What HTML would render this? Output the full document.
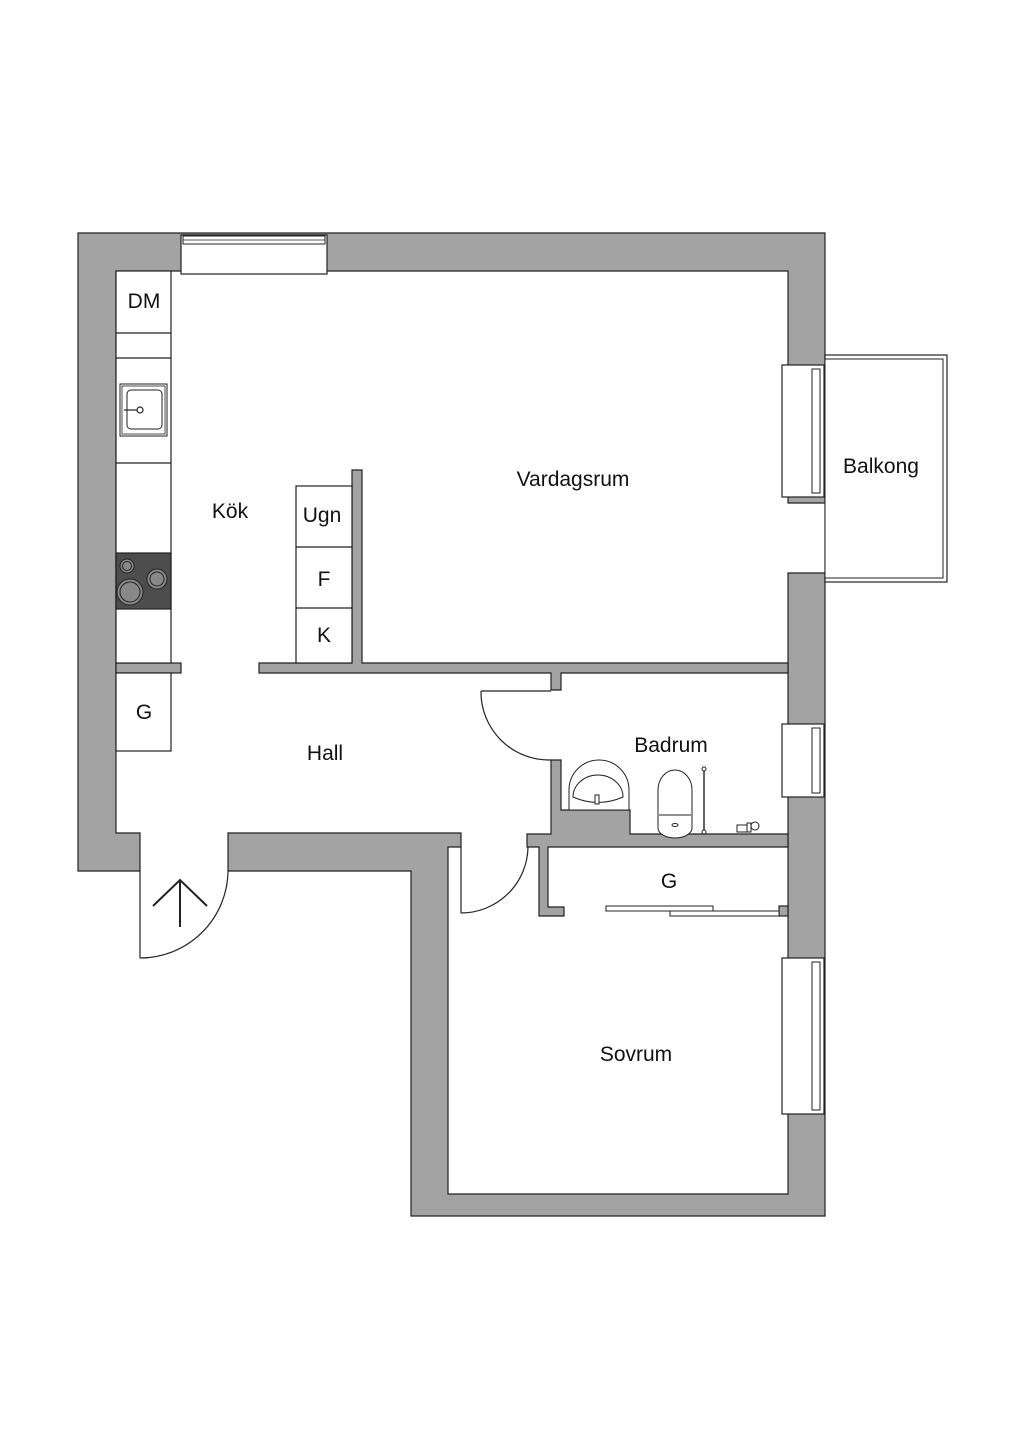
<!DOCTYPE html>
<html><head><meta charset="utf-8"><style>
html,body{margin:0;padding:0;background:#fff}
svg{display:block}
text{font-family:"Liberation Sans",sans-serif;font-size:21px;fill:#111;text-anchor:middle}
</style></head><body>
<svg width="1024" height="1448" viewBox="0 0 1024 1448" xmlns="http://www.w3.org/2000/svg">
<rect width="1024" height="1448" fill="#fff"/>
<g fill="#a3a3a3" stroke="#222" stroke-width="1.2">
<path d="M78,233 H825 V503 H788 V271 H116 V833 H140 V871 H78 Z"/>
<path d="M228,833 H461 V847 H448 V1194 H788 V573 H825 V1216 H411 V871 H228 Z"/>
<path d="M259,663 H352 V470 H362 V663 H788 V673 H561 V690 H551 V673 H259 Z"/>
<rect x="116" y="663" width="65" height="10"/>
<path d="M551,760 H561 V810 H630 V834 H788 V847 H548 V907 H564 V916 H539 V847 H527 V834 H551 Z"/>
<rect x="779" y="906" width="9" height="10"/>
</g>
<!-- top window -->
<rect x="181" y="235" width="146" height="39" fill="#fff" stroke="#222" stroke-width="1.2"/>
<rect x="183" y="236" width="142" height="8" fill="#fff" stroke="#222" stroke-width="1"/>
<line x1="183" y1="240" x2="325" y2="240" stroke="#222" stroke-width="0.8"/>
<!-- right windows -->
<g fill="#fff" stroke="#222" stroke-width="1.2">
<rect x="782" y="365" width="42" height="132"/>
<rect x="812" y="369" width="8" height="124" stroke-width="1"/>
<rect x="782" y="724" width="42" height="73"/>
<rect x="812" y="728" width="8" height="65" stroke-width="1"/>
<rect x="782" y="958" width="42" height="156"/>
<rect x="812" y="962" width="8" height="148" stroke-width="1"/>
<rect x="825" y="355" width="122" height="227"/>
<rect x="825" y="359" width="118" height="219" stroke-width="1"/>
</g>
<!-- kitchen counter -->
<g fill="#fff" stroke="#222" stroke-width="1.2">
<rect x="116" y="271" width="55" height="392"/>
<line x1="116" y1="333" x2="171" y2="333"/>
<line x1="116" y1="358" x2="171" y2="358"/>
<line x1="116" y1="463" x2="171" y2="463"/>
<rect x="116" y="553" width="55" height="56" fill="#4d4d4d"/>
<rect x="120" y="384" width="47" height="52" stroke-width="1"/>
<rect x="122" y="386" width="43" height="48" stroke-width="0.8"/>
<rect x="127" y="390" width="35" height="39" rx="4" stroke-width="1"/>
<circle cx="140" cy="410" r="3" stroke-width="1.2"/>
<line x1="124" y1="410" x2="137" y2="410" stroke-width="1.2"/>
<rect x="116" y="673" width="55" height="78"/>
<rect x="296" y="486" width="56" height="177"/>
<line x1="296" y1="547" x2="352" y2="547"/>
<line x1="296" y1="608" x2="352" y2="608"/>
</g>
<g fill="#888" stroke="#222" stroke-width="1">
<circle cx="127" cy="566" r="7"/><circle cx="127" cy="566" r="4.5"/>
<circle cx="157" cy="579" r="10"/><circle cx="157" cy="579" r="7"/>
<circle cx="130" cy="592" r="13"/><circle cx="130" cy="592" r="10"/>
</g>
<!-- doors -->
<g fill="none" stroke="#222" stroke-width="1.2">
<line x1="140" y1="871" x2="140" y2="958"/>
<path d="M140,958 A88,88 0 0 0 228,871"/>
<line x1="481" y1="691" x2="551" y2="691"/>
<path d="M481,691 A68,68 0 0 0 551,760"/>
<line x1="461" y1="847" x2="461" y2="913"/>
<path d="M461,913 A67,67 0 0 0 528,847"/>
<g stroke-width="2">
<line x1="180" y1="927" x2="180" y2="880"/>
<polyline points="153,906 180,880 207,906"/>
</g>
</g>
<g fill="#fff" stroke="#222" stroke-width="1">
<rect x="606" y="906" width="107" height="5"/>
<rect x="670" y="911" width="109" height="5"/>
</g>
<!-- bathroom fixtures -->
<g fill="#fff" stroke="#222" stroke-width="1">
<path d="M569,810 V790 A30,30 0 0 1 629,790 V810 Z"/>
<path d="M573,797 A25,22 0 0 1 623,797 Q598,808 573,797 Z"/>
<rect x="595" y="795" width="4" height="9"/>
<path d="M658,828 V790 A17,20 0 0 1 692,790 V828 A17,10 0 0 1 658,828 Z"/>
<path d="M659,815 H691"/>
<ellipse cx="675" cy="825" rx="3" ry="1.5"/>
<line x1="704" y1="769" x2="704" y2="832" stroke-width="1.4"/>
<circle cx="704" cy="769" r="2"/><circle cx="704" cy="832" r="2"/>
<rect x="737" y="825" width="10" height="7"/>
<rect x="747" y="823" width="4" height="9"/>
<circle cx="755" cy="826" r="4"/>
</g>
<text x="144" y="308">DM</text>
<text x="230" y="518">Kök</text>
<text x="322" y="522">Ugn</text>
<text x="324" y="586">F</text>
<text x="324" y="642">K</text>
<text x="573" y="486">Vardagsrum</text>
<text x="881" y="473">Balkong</text>
<text x="671" y="752">Badrum</text>
<text x="325" y="760">Hall</text>
<text x="144" y="719">G</text>
<text x="669" y="888">G</text>
<text x="636" y="1061">Sovrum</text>
</svg>
</body></html>
